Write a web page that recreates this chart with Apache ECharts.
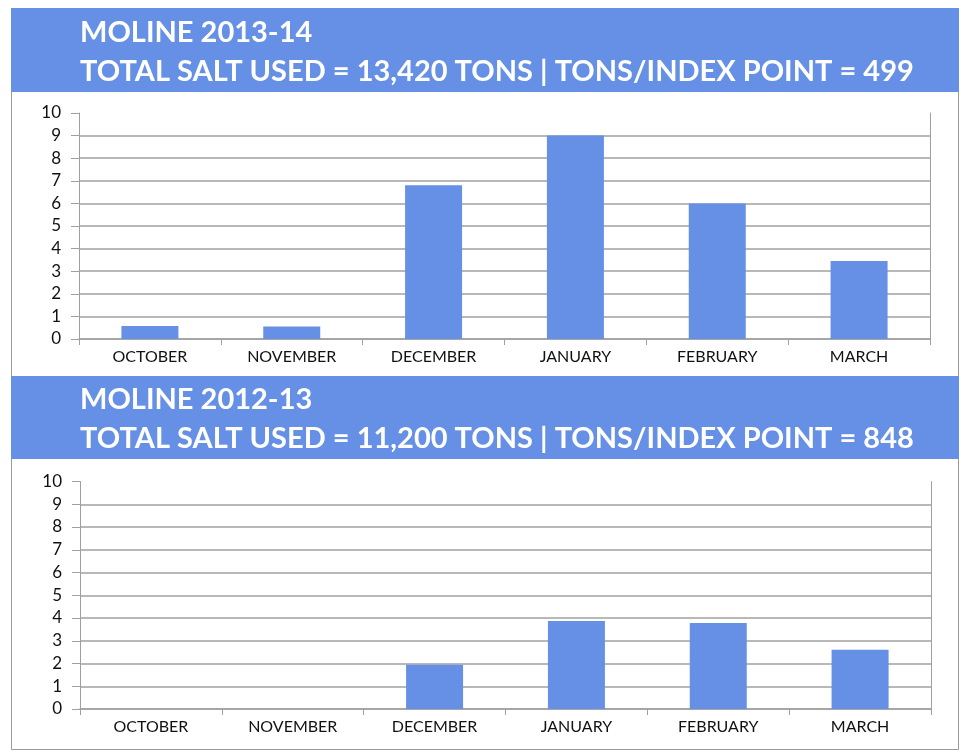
<!DOCTYPE html>
<html><head><meta charset="utf-8">
<script src="https://cdn.jsdelivr.net/npm/echarts@6/dist/echarts.min.js"></script>
<style>html,body{margin:0;padding:0;background:#fff}#c{width:964px;height:751px}</style>
</head><body><div id="c"></div>
<script>
const months = ['OCTOBER','NOVEMBER','DECEMBER','JANUARY','FEBRUARY','MARCH'];
const values2013 = [0.58, 0.55, 6.8, 9.0, 6.0, 3.45];
const values2012 = [0, 0, 1.95, 3.87, 3.78, 2.6];
const yTicks = {min: 0, max: 10, interval: 1};
const title1 = ['MOLINE 2013-14', 'TOTAL SALT USED = 13,420 TONS | TONS/INDEX POINT = 499'];
const title2 = ['MOLINE 2012-13', 'TOTAL SALT USED = 11,200 TONS | TONS/INDEX POINT = 848'];

const BLUE = '#6590e6';
const GRID = '#a0a0a0';
const chart = echarts.init(document.getElementById('c'));

function yAx(gi){
  return [{
    type:'value', gridIndex:gi, min:yTicks.min, max:yTicks.max, interval:yTicks.interval,
    axisLine:{show:true, lineStyle:{color:GRID, width:1}},
    axisTick:{show:true, length:8, lineStyle:{color:GRID}},
    axisLabel:{color:'#111', fontFamily:'Lato', fontSize:17, margin:18},
    splitLine:{show:true, showMaxLine:false, lineStyle:{color:GRID, width:1.5}}
  },{
    type:'value', gridIndex:gi, position:'right', min:yTicks.min, max:yTicks.max, interval:yTicks.interval,
    axisLine:{show:true, lineStyle:{color:GRID, width:1}},
    axisTick:{show:false}, axisLabel:{show:false}, splitLine:{show:false}
  }];
}
function xAx(gi){
  return {
    type:'category', gridIndex:gi, data:months, boundaryGap:true,
    axisLine:{show:true, lineStyle:{color:GRID, width:1.5}},
    axisTick:{show:true, length:6, lineStyle:{color:GRID}},
    axisLabel:{color:'#111', fontFamily:'Lato', fontSize:16, margin:10}
  };
}
const titleStyle = {color:'#fff', fontFamily:'Lato', fontWeight:'bold', fontSize:29, lineHeight:39};

chart.setOption({
  animation:false,
  graphic:[
    {type:'rect', shape:{x:11.5,y:8.5,width:947,height:741}, style:{fill:'#fff', stroke:'#9a9a9a', lineWidth:1}, z:-10},
    {type:'rect', shape:{x:11,y:8,width:948,height:84}, style:{fill:BLUE}, z:-5},
    {type:'rect', shape:{x:11,y:376,width:948,height:83}, style:{fill:BLUE}, z:-5}
  ],
  title:[
    {text:title1.join('\n'), left:80, top:13, padding:0, textStyle:titleStyle},
    {text:title2.join('\n'), left:80, top:380, padding:0, textStyle:titleStyle}
  ],
  grid:[
    {left:79, right:34, top:113, height:226},
    {left:80, right:33, top:481.5, height:227.5}
  ],
  xAxis:[xAx(0), xAx(1)],
  yAxis:[...yAx(0), ...yAx(1)],
  series:[
    {type:'bar', xAxisIndex:0, yAxisIndex:0, data:values2013, barWidth:57, itemStyle:{color:BLUE}},
    {type:'bar', xAxisIndex:1, yAxisIndex:2, data:values2012, barWidth:57, itemStyle:{color:BLUE}}
  ]
});
</script></body></html>
